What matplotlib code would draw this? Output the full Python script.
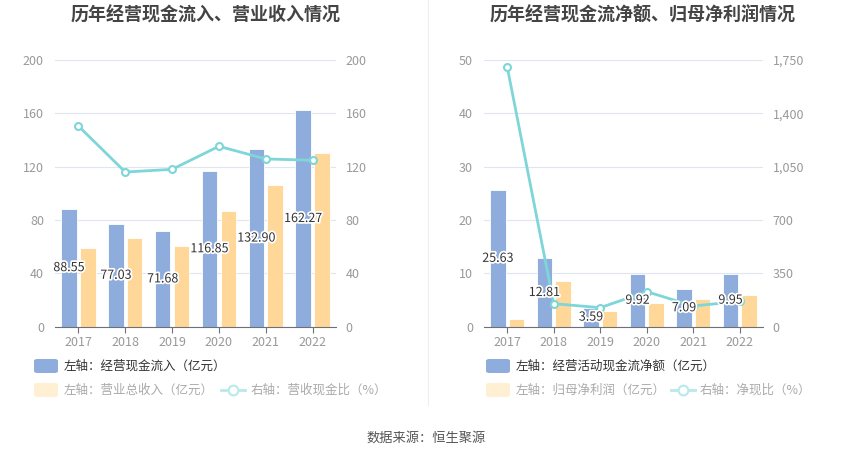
import matplotlib
matplotlib.use("Agg")
import matplotlib.pyplot as plt
import matplotlib.patheffects as pe
from matplotlib.patches import FancyBboxPatch
from matplotlib.lines import Line2D
from matplotlib.ticker import FuncFormatter

plt.rcParams['font.family'] = ['Noto Sans CJK SC', 'DejaVu Sans']

years = ["2017", "2018", "2019", "2020", "2021", "2022"]
# left chart
cash_inflow = [88.55, 77.03, 71.68, 116.85, 132.90, 162.27]
revenue = [59.0, 66.5, 60.8, 86.5, 106.0, 130.3]
inflow_ratio = [150.5, 116.0, 118.0, 135.3, 125.8, 124.8]
# right chart
net_cash = [25.63, 12.81, 3.59, 9.92, 7.09, 9.95]
net_profit = [1.5, 8.6, 2.9, 4.4, 5.2, 5.9]
net_ratio = [1704, 151, 125, 230, 136, 166]

W, H = 850, 459
fig = plt.figure(figsize=(W / 100, H / 100), dpi=100)

BLUE = "#8eaddc"
ORANGE = "#ffd899"
TEAL = "#7fd6d8"
GRID = "#e0e6f1"
TICK = "#999999"


def fx(px):
    return px / W


def fy(py):
    return 1 - py / H


def make_panel(x0, x1, bar1, bar2, line, ylim_l, yticks_l, ylim_r, yticks_r, rfmt):
    ax = fig.add_axes([fx(x0), fy(326.7), fx(x1 - x0), (326.7 - 60) / H])
    xs = list(range(len(years)))
    w = 0.33
    ax.bar([x - 0.2 for x in xs], bar1, width=w, color=BLUE, edgecolor="white",
           linewidth=0.6, zorder=2)
    ax.bar([x + 0.2 for x in xs], bar2, width=w, color=ORANGE, edgecolor="white",
           linewidth=0.6, zorder=2)
    ax.set_xlim(-0.5, len(years) - 0.5)
    ax.set_ylim(*ylim_l)
    ax.set_yticks(yticks_l)
    ax.set_xticks(xs)
    ax.set_xticklabels(years)
    ax.grid(axis="y", color=GRID, linewidth=0.8, zorder=0)
    ax.set_axisbelow(True)
    for s in ["top", "right", "left"]:
        ax.spines[s].set_visible(False)
    ax.spines["bottom"].set_color("#6e7079")
    ax.tick_params(axis="y", length=0, colors=TICK, labelsize=9, pad=8)
    ax.tick_params(axis="x", length=4, color="#6e7079", colors=TICK, labelsize=9, pad=3)

    ax2 = ax.twinx()
    ax2.set_ylim(*ylim_r)
    ax2.set_yticks(yticks_r)
    ax2.yaxis.set_major_formatter(FuncFormatter(rfmt))
    for s in ["top", "right", "left", "bottom"]:
        ax2.spines[s].set_visible(False)
    ax2.tick_params(axis="y", length=0, colors=TICK, labelsize=9, pad=7)
    ax2.plot(xs, line, color=TEAL, linewidth=2, marker="o", markersize=5,
             markerfacecolor="white", markeredgecolor=TEAL, markeredgewidth=1.5,
             zorder=3)
    ax2.set_zorder(ax.get_zorder() + 1)
    ax2.patch.set_visible(False)
    scale = (ylim_r[1] - ylim_r[0]) / (ylim_l[1] - ylim_l[0])
    for x, v in zip(xs, bar1):
        ax2.text(x - 0.2, (v / 2) * scale,
                 f"{v:.2f}", ha="center", va="center", fontsize=9, color="#333333",
                 zorder=5,
                 path_effects=[pe.withStroke(linewidth=2.5, foreground="white")])
    return ax, ax2


make_panel(55, 336, cash_inflow, revenue, inflow_ratio,
           (0, 200), [0, 40, 80, 120, 160, 200],
           (0, 200), [0, 40, 80, 120, 160, 200],
           lambda v, p: f"{int(v)}")
make_panel(484, 763, net_cash, net_profit, net_ratio,
           (0, 50), [0, 10, 20, 30, 40, 50],
           (0, 1750), [0, 350, 700, 1050, 1400, 1750],
           lambda v, p: f"{int(v):,}")

# titles
fig.text(fx(206), fy(15), "历年经营现金流入、营业收入情况", ha="center", va="center",
         fontsize=13, fontweight="bold", color="#444444")
fig.text(fx(643), fy(15), "历年经营现金流净额、归母净利润情况", ha="center", va="center",
         fontsize=13, fontweight="bold", color="#444444")

# separator
fig.add_artist(Line2D([fx(428), fx(428)], [fy(0), fy(405)], color="#eeeeee", linewidth=0.8))


def swatch(x, y, color):
    fig.add_artist(FancyBboxPatch((fx(x), fy(y + 7)), fx(24), 14 / H,
                                  boxstyle="round,pad=0,rounding_size=0.004",
                                  facecolor=color, edgecolor="none",
                                  transform=fig.transFigure))


def line_marker(x, y, color):
    fig.add_artist(Line2D([fx(x), fx(x + 24)], [fy(y), fy(y)], color=color, linewidth=2))
    fig.add_artist(Line2D([fx(x + 12)], [fy(y)], color=color, marker="o", markersize=7,
                          markerfacecolor="white", markeredgewidth=1.5))


def legend_text(x, y, s, color):
    fig.text(fx(x), fy(y), s, ha="left", va="center", fontsize=9, color=color)


# left legend
swatch(34, 366, BLUE)
legend_text(64, 366, "左轴：经营现金流入（亿元）", "#333333")
swatch(34, 390, "#ffefd3")
legend_text(64, 390, "左轴：营业总收入（亿元）", "#aaaaaa")
line_marker(221, 390, "#b9e9ea")
legend_text(251, 390, "右轴：营收现金比（%）", "#aaaaaa")

# right legend
swatch(486, 366, BLUE)
legend_text(516, 366, "左轴：经营活动现金流净额（亿元）", "#333333")
swatch(486, 390, "#ffefd3")
legend_text(516, 390, "左轴：归母净利润（亿元）", "#aaaaaa")
line_marker(671, 390, "#b9e9ea")
legend_text(700, 390, "右轴：净现比（%）", "#aaaaaa")

fig.text(fx(426), fy(438), "数据来源：恒生聚源", ha="center", va="center",
         fontsize=9.5, color="#555555")

fig.savefig("out.png", dpi=100)
